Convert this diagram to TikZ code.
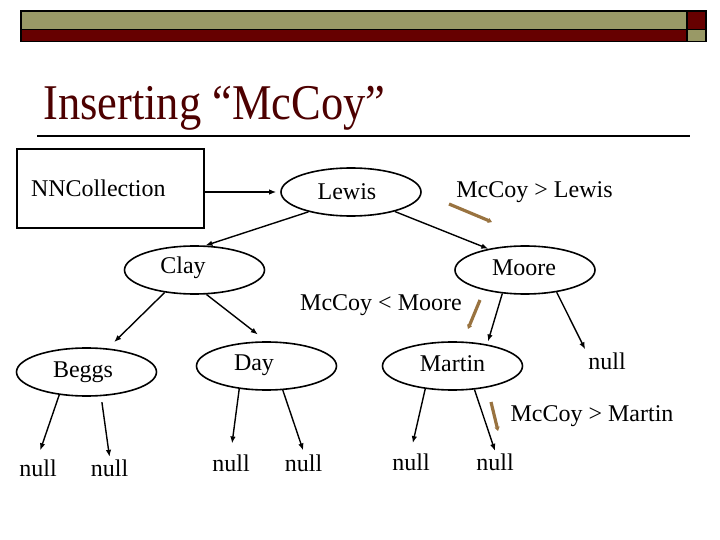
\documentclass[tikz,border=0pt]{standalone}
\usepackage{fontspec}
\setmainfont{Liberation Serif}
\usepackage{graphicx}
\usetikzlibrary{arrows.meta,shapes.geometric}
\definecolor{bandolive}{RGB}{153,153,102}
\definecolor{bandred}{RGB}{102,0,0}
\definecolor{titlered}{RGB}{77,0,0}
\definecolor{hintbrown}{RGB}{153,115,64}
\tikzset{
  treenode/.style={
    ellipse,
    draw,
    line width=1.6pt,
    minimum width=140pt,
    minimum height=48pt,
    inner sep=0pt
  },
  collbox/.style={
    rectangle,
    draw,
    line width=1.6pt,
    minimum width=187pt,
    minimum height=79pt,
    text width=159pt,
    inner xsep=14pt,
    align=left
  },
  nulltext/.style={inner sep=3pt},
  link/.style={-{Latex[length=7pt,width=5.5pt]},line width=1.4pt},
  hint/.style={-{Triangle[length=4pt,width=5pt]},line width=3.2pt,draw=hintbrown,color=hintbrown},
  band/.style={line width=1.2pt}
}

\begin{document}
\begin{tikzpicture}[x=1pt,y=-1pt,font=\fontsize{24}{28}\selectfont]
\useasboundingbox (0,0) rectangle (720,540);

% Banda superior
\draw[band, fill=bandolive] (21,11) rectangle (687,29.5);
\draw[band, fill=bandred] (21,29.5) rectangle (687,41.5);
\draw[band, fill=bandred] (687,11) rectangle (706,29.5);
\draw[band, fill=bandolive] (687,29.5) rectangle (706,41.5);

% Titulo
\node[anchor=base west, inner sep=0pt, text=titlered,
  font=\fontsize{50}{56}\selectfont] (titleT) at (43,120)
  {\scalebox{0.89}[1]{Inserting “McCoy”}};
\draw[line width=1.6pt] (37,136) -- (690,136);

% Coleccion y raiz
\node[collbox] (collR) at (110.5,188.5) {NNCollection};
\node[treenode, label={[xshift=-4pt]center:Lewis}] (lewisE) at (351,192) {};

% Segundo nivel
\node[treenode, label={[xshift=-11.5pt,yshift=2pt]center:Clay}] (clayE) at (194.5,270) {};
\node[treenode, label={[xshift=-1pt,yshift=2pt]center:Moore}] (mooreE) at (525,270) {};

% Tercer nivel
\node[treenode, label={[xshift=-3.5pt]center:Beggs}] (beggsE) at (86.5,372) {};
\node[treenode, label={[xshift=-12.5pt,yshift=1pt]center:Day}] (dayE) at (266.5,366) {};
\node[treenode, label={[yshift=2pt]center:Martin}] (martinE) at (452.5,366) {};

% Hojas null
\node[nulltext] (nullBa) at (38,468.5) {null};
\node[nulltext] (nullBb) at (109.5,468.5) {null};
\node[nulltext] (nullDa) at (231,463) {null};
\node[nulltext] (nullDb) at (303.5,463) {null};
\node[nulltext] (nullMa) at (411,462.5) {null};
\node[nulltext] (nullMb) at (495,462.5) {null};
\node[nulltext] (nullMo) at (607,361) {null};

% Comparaciones
\node[anchor=base] (gtLewis) at (534.5,198) {McCoy > Lewis};
\node[anchor=base] (ltMoore) at (381,310) {McCoy < Moore};
\node[anchor=base] (gtMartin) at (592,421) {McCoy > Martin};

% Enlaces del arbol
\draw[link, shorten >=4pt] (collR.east |- lewisE) -- (lewisE.west);
\draw[link] (lewisE.205) -- (clayE.66);
\draw[link] (lewisE.-24) -- (mooreE.150);
\draw[link, shorten >=9pt] (clayE.217) -- (beggsE.48);
\draw[link, shorten >=11pt] (clayE.-64) -- (dayE.north);
\draw[link, shorten >=3pt] (mooreE.226) -- (martinE.32);
\draw[link] (mooreE.-35) -- (nullMo.north west);
\draw[link, shorten >=7pt] (beggsE.220) -- (nullBa.north);
\draw[link, shorten <=6pt] (beggsE.-59) -- (nullBb.north);
\draw[link, shorten >=8pt] (dayE.220) -- (nullDa.north);
\draw[link, shorten >=1pt] (dayE.-56) -- (nullDb.north);
\draw[link, shorten >=8pt] (martinE.220) -- (nullMa.north);
\draw[link] (martinE.-47) -- (nullMb.north);

% Flechas del recorrido
\coordinate (hintAs) at (449,204);
\coordinate (hintAe) at (492,222);
\coordinate (hintBs) at (480,300);
\coordinate (hintBe) at (468,329);
\coordinate (hintCs) at (491,402);
\coordinate (hintCe) at (498,431);
\draw[hint] (hintAs) -- (hintAe);
\draw[hint] (hintBs) -- (hintBe);
\draw[hint] (hintCs) -- (hintCe);

\end{tikzpicture}
\end{document}
